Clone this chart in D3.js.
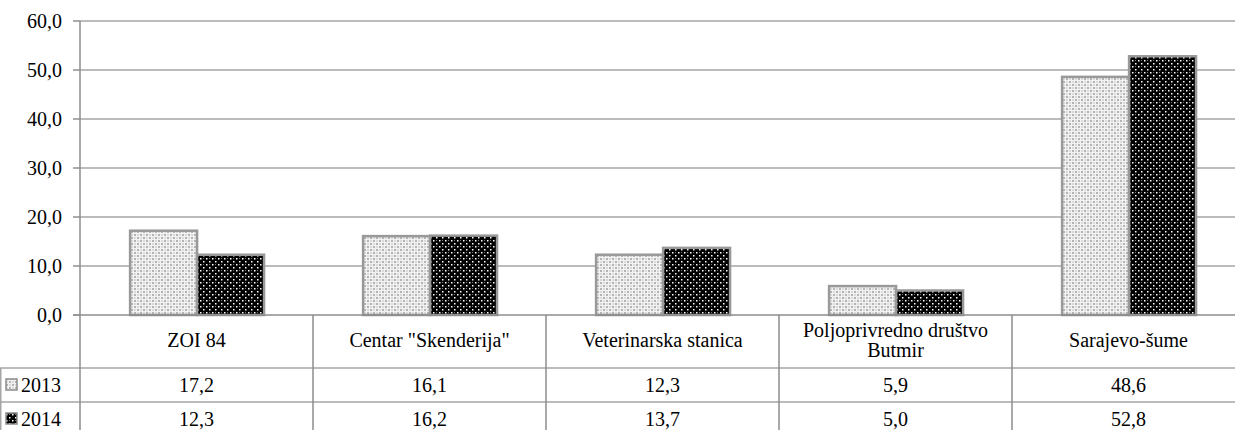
<!DOCTYPE html>
<html><head><meta charset="utf-8"><script src="https://cdn.jsdelivr.net/npm/d3@7"></script></head>
<body style="margin:0">
<svg id="s" width="1235" height="430"></svg>
<script>
// chart data
var categories = ["ZOI 84", "Centar \"Skenderija\"", "Veterinarska stanica", "Poljoprivredno društvo\nButmir", "Sarajevo-šume"];
var seriesNames = ["2013", "2014"];
var values2013 = [17.2, 16.1, 12.3, 5.9, 48.6];
var values2014 = [12.3, 16.2, 13.7, 5.0, 52.8];
var yTicks = [0, 10, 20, 30, 40, 50, 60];

var seriesValues = [values2013, values2014];

var svg = d3.select("#s");
var fmt = function(v) { return d3.format(".1f")(v).replace(".", ","); };

var plotLeft = 80, plotRight = 1245, plotTop = 21, plotBottom = 315;
var rowLines = [315, 368, 402, 436];
var gridColor = "#a6a6a6";
var fontFam = "Times New Roman";
var fontSize = 20;

// patterns
var defs = svg.append("defs");
var p1 = defs.append("pattern").attr("id", "pat2013")
  .attr("patternUnits", "userSpaceOnUse").attr("width", 6).attr("height", 6);
p1.append("rect").attr("width", 6).attr("height", 6).attr("fill", "#f2f2f2");
p1.append("rect").attr("x", 0).attr("y", 0).attr("width", 2).attr("height", 2).attr("fill", "#b4b4b4");
p1.append("rect").attr("x", 3).attr("y", 3).attr("width", 2).attr("height", 2).attr("fill", "#b4b4b4");
p1.append("rect").attr("x", 3).attr("y", 0).attr("width", 2).attr("height", 2).attr("fill", "#dadada");
p1.append("rect").attr("x", 0).attr("y", 3).attr("width", 2).attr("height", 2).attr("fill", "#dadada");

var p2 = defs.append("pattern").attr("id", "pat2014")
  .attr("patternUnits", "userSpaceOnUse").attr("width", 6).attr("height", 6);
p2.append("rect").attr("width", 6).attr("height", 6).attr("fill", "#000");
p2.append("rect").attr("x", 0).attr("y", 0).attr("width", 1.5).attr("height", 1.5).attr("fill", "#fff");
p2.append("rect").attr("x", 3).attr("y", 3).attr("width", 1.5).attr("height", 1.5).attr("fill", "#fff");
p2.append("rect").attr("x", 3).attr("y", 0).attr("width", 1).attr("height", 1).attr("fill", "#777");

var patterns = ["url(#pat2013)", "url(#pat2014)"];

// scales
var y = d3.scaleLinear().domain([0, 60]).range([plotBottom, plotTop]);
var x0 = d3.scaleBand().domain(categories).range([plotLeft, plotRight]);
var x1 = d3.scaleBand().domain(seriesNames)
  .range([x0.bandwidth() * 0.215, x0.bandwidth() * 0.79]);

// every label goes through here
function label(x, yy, str, anchor) {
  return svg.append("text")
    .attr("x", x).attr("y", yy).attr("dy", "0.35em")
    .attr("text-anchor", anchor)
    .attr("font-family", fontFam).attr("font-size", fontSize)
    .attr("fill", "#000")
    .text(str);
}

// gridlines
svg.append("g").selectAll("line").data(yTicks.slice(1)).join("line")
  .attr("x1", plotLeft - 7).attr("x2", plotRight)
  .attr("y1", function(d) { return y(d); }).attr("y2", function(d) { return y(d); })
  .attr("stroke", gridColor).attr("stroke-width", 1.5);

// y axis ticks and labels
svg.append("g").selectAll("line").data(yTicks).join("line")
  .attr("x1", plotLeft - 7).attr("x2", plotLeft)
  .attr("y1", function(d) { return y(d); }).attr("y2", function(d) { return y(d); })
  .attr("stroke", gridColor).attr("stroke-width", 1.5);
yTicks.forEach(function(t) { label(plotLeft - 18, y(t), fmt(t), "end"); });

// bars
var groups = svg.append("g").selectAll("g").data(categories).join("g")
  .attr("transform", function(d) { return "translate(" + x0(d) + ",0)"; });
groups.selectAll("rect").data(function(d, i) {
    return seriesNames.map(function(s, j) { return { s: s, j: j, v: seriesValues[j][i] }; });
  }).join("rect")
  .attr("x", function(d) { return x1(d.s); })
  .attr("width", x1.bandwidth())
  .attr("y", function(d) { return y(d.v); })
  .attr("height", function(d) { return y(0) - y(d.v); })
  .attr("fill", function(d) { return patterns[d.j]; })
  .attr("stroke", "#999").attr("stroke-width", 2.5);

// table lines
var table = svg.append("g").attr("stroke", gridColor).attr("stroke-width", 1.5);
table.append("line").attr("x1", plotLeft - 7).attr("x2", plotRight)
  .attr("y1", rowLines[0]).attr("y2", rowLines[0]).attr("stroke", "#8c8c8c");
[rowLines[1], rowLines[2]].forEach(function(ry) {
  table.append("line").attr("x1", 0).attr("x2", plotRight).attr("y1", ry).attr("y2", ry);
});
table.append("line").attr("x1", 0.75).attr("x2", 0.75).attr("y1", rowLines[1]).attr("y2", 430);
table.append("line").attr("x1", plotLeft).attr("x2", plotLeft)
  .attr("y1", plotTop).attr("y2", 430).attr("stroke", "#8c8c8c");
categories.slice(1).forEach(function(c) {
  table.append("line").attr("x1", x0(c)).attr("x2", x0(c))
    .attr("y1", rowLines[0]).attr("y2", 430).attr("stroke", "#8c8c8c");
});

// category labels, one text per line
categories.forEach(function(c) {
  var lines = c.split("\n");
  var cy = (rowLines[0] + rowLines[1]) / 2 - 2 - (lines.length - 1) * 10;
  lines.forEach(function(l, k) {
    label(x0(c) + x0.bandwidth() / 2, cy + k * 20, l, "middle");
  });
});

// data rows with legend keys
seriesNames.forEach(function(s, j) {
  var cy = (rowLines[j + 1] + rowLines[j + 2]) / 2;
  seriesValues[j].forEach(function(v, i) {
    label(x0(categories[i]) + x0.bandwidth() / 2, cy, fmt(v), "middle");
  });
  svg.append("rect").attr("x", 6).attr("y", cy - 6).attr("width", 11).attr("height", 11)
    .attr("fill", patterns[j]).attr("stroke", "#8c8c8c").attr("stroke-width", 1.5);
  label(21, cy, s, "start");
});
</script>
</body></html>
